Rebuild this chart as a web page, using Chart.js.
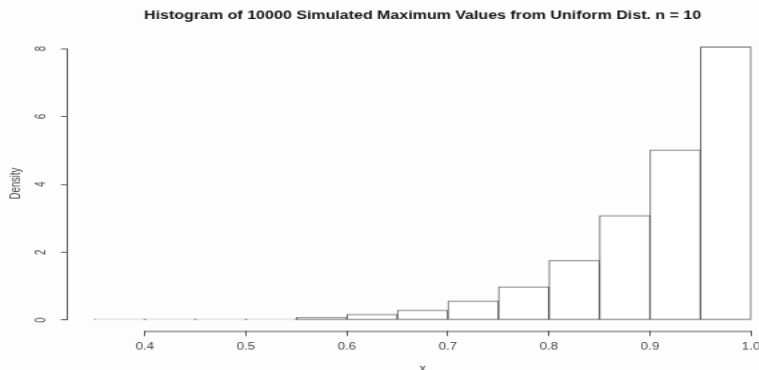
<!DOCTYPE html>
<html>
<head>
<meta charset="utf-8">
<script src="https://cdn.jsdelivr.net/npm/chart.js@4"></script>
<style>
  html, body { margin: 0; padding: 0; background: #fdfdfd; }
  #wrap { position: relative; width: 759px; height: 370px; overflow: hidden; }
  /* the reference is a stretched R screenshot: draw small, then stretch */
  #hist { position: absolute; left: 0; top: 0; width: 600px; height: 400px;
          transform-origin: 0 0; transform: scale(1.3333, 0.95); }
</style>
</head>
<body>
<div id="wrap"><canvas id="hist" width="600" height="400"></canvas></div>
<script>
// bin edges (width 0.05) and the density of each bin
const BIN_START = [0.35, 0.40, 0.45, 0.50, 0.55, 0.60, 0.65, 0.70, 0.75, 0.80, 0.85, 0.90, 0.95];
const DENSITY   = [0.002, 0.004, 0.012, 0.03, 0.08, 0.17, 0.29, 0.56, 0.98, 1.76, 3.08, 5.01, 8.05];
const BIN_WIDTH = 0.05;

const X_TICKS = [0.4, 0.5, 0.6, 0.7, 0.8, 0.9, 1.0];
const Y_TICKS = [0, 2, 4, 6, 8];

const LINE = '#555555';
const TEXT = '#444444';
const FONT = "'Liberation Sans', Arial, sans-serif";

// R style axes: line only runs from first to last tick
const rAxes = {
  id: 'rAxes',
  afterDraw(chart) {
    const { ctx, scales: { x, y } } = chart;
    ctx.save();
    ctx.strokeStyle = LINE;
    ctx.lineWidth = 1;
    ctx.beginPath();
    const xa = x.top + 0.5;
    ctx.moveTo(x.getPixelForValue(X_TICKS[0]), xa);
    ctx.lineTo(x.getPixelForValue(X_TICKS[X_TICKS.length - 1]), xa);
    const ya = y.right - 0.5;
    ctx.moveTo(ya, y.getPixelForValue(Y_TICKS[0]));
    ctx.lineTo(ya, y.getPixelForValue(Y_TICKS[Y_TICKS.length - 1]));
    ctx.stroke();
    ctx.restore();
  }
};

new Chart(document.getElementById('hist'), {
  type: 'bar',
  data: {
    datasets: [{
      data: BIN_START.map((s, i) => ({ x: s + BIN_WIDTH / 2, y: DENSITY[i] })),
      backgroundColor: '#ffffff',
      borderColor: LINE,
      borderWidth: 1,
      borderSkipped: false,
      minBarLength: 1,
      barPercentage: 1,
      categoryPercentage: 1
    }]
  },
  options: {
    responsive: false,
    devicePixelRatio: 1,
    animation: false,
    layout: { padding: { left: 0, right: 17, top: 0, bottom: 0 } },
    plugins: {
      legend: { display: false },
      tooltip: { enabled: false },
      title: {
        display: true,
        fullSize: false,
        text: 'Histogram of 10000 Simulated Maximum Values from Uniform Dist. n = 10',
        color: '#111',
        font: { family: FONT, size: 12, weight: 'bold' },
        padding: { top: 9.5, bottom: 14 }
      }
    },
    scales: {
      x: {
        type: 'linear',
        offset: false,
        min: 0.324,
        max: 1.026,
        afterBuildTicks: s => { s.ticks = X_TICKS.map(v => ({ value: v })); },
        afterFit: s => { s.height = 51.6; },
        grid: { offset: false, drawOnChartArea: false, drawTicks: true, tickLength: 5.3, color: LINE },
        border: { display: false },
        ticks: {
          color: TEXT,
          font: { family: FONT, size: 10 },
          padding: 6,
          maxRotation: 0,
          autoSkip: false,
          callback: v => v.toFixed(1)
        },
        title: {
          display: true, text: 'x', color: TEXT,
          font: { family: FONT, size: 10 },
          padding: { top: 0, bottom: 5.5 }
        }
      },
      y: {
        min: -0.322,
        max: 8.37,
        afterBuildTicks: s => { s.ticks = Y_TICKS.map(v => ({ value: v })); },
        afterFit: s => { s.width = 51; },
        grid: { drawOnChartArea: false, drawTicks: true, tickLength: 5.3, color: LINE },
        border: { display: false },
        ticks: {
          color: TEXT,
          font: { family: FONT, size: 10 },
          minRotation: 90,
          maxRotation: 90,
          crossAlign: 'center',
          padding: 12
        },
        title: {
          display: true, text: 'Density', color: TEXT,
          font: { family: FONT, size: 10 },
          padding: { top: 6.7, bottom: 0 }
        }
      }
    }
  },
  plugins: [rAxes]
});
</script>
</body>
</html>
